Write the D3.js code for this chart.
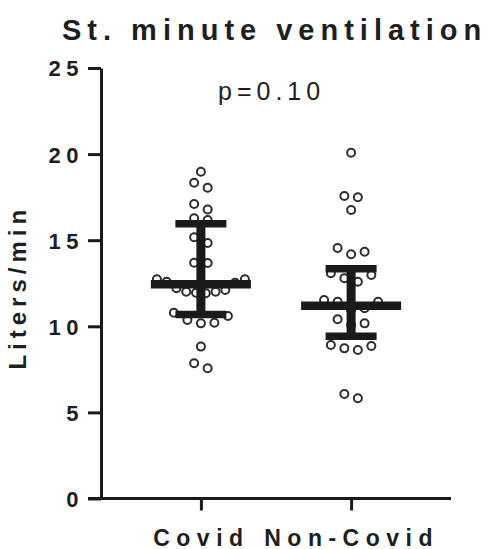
<!DOCTYPE html>
<html>
<head>
<meta charset="utf-8">
<script src="https://cdn.jsdelivr.net/npm/d3@7"></script>
<style>
  html, body { margin: 0; padding: 0; background: #fff; }
  svg { display: block; }
  text { font-family: "Liberation Sans", Arial, sans-serif; fill: #1e1e1e; }
</style>
</head>
<body>
<svg id="chart" width="487" height="549"></svg>
<script>
// ---- data ----
const categories = ["Covid", "Non-Covid"];
const covidValues = [18.98, 18.34, 18.05, 17.1, 16.78, 16.27, 16.17, 15.17, 14.84, 13.68, 13.69,
  12.73, 12.73, 12.59, 12.53, 12.21, 12.01, 12.01, 11.95, 11.92, 12.11,
  10.79, 10.6, 10.37, 10.21, 10.17, 8.82, 7.85, 7.56];
const nonCovidValues = [20.08, 17.57, 17.49, 16.75, 14.55, 14.33, 14.18, 13.08, 12.98, 12.79, 12.59,
  11.53, 11.43, 11.43, 11.05, 10.95, 10.41, 10.17, 10.08, 8.91, 8.86, 8.72, 8.62, 6.07, 5.82];
const centerValues = [12.44, 11.19];
const upperValues = [15.96, 13.34];
const lowerValues = [10.69, 9.42];
const yTicks = [0, 5, 10, 15, 20, 25];
const titleText = "St. minute ventilation";
const yLabelText = "Liters/min";
const pText = "p=0.10";

const seriesValues = [covidValues, nonCovidValues];

// ---- layout ----
const svg = d3.select("#chart");
const plotLeft = 101, plotRight = 451, plotTop = 68, plotBottom = 498.5;
const y = d3.scaleLinear().domain([0, 25]).range([plotBottom, plotTop]);
const x = d3.scalePoint().domain(categories).range([plotLeft, plotRight]).padding(0.665);

const ink = "#1a1a1a";

// title
svg.append("text")
  .attr("x", 62).attr("y", 40)
  .attr("font-size", 29).attr("font-weight", "bold")
  .attr("letter-spacing", 6)
  .text(titleText);

// p value
svg.append("text")
  .attr("x", 218).attr("y", 100)
  .attr("font-size", 25)
  .attr("letter-spacing", 5)
  .text(pText);

// y label
svg.append("text")
  .attr("transform", `translate(26, ${(plotTop + plotBottom) / 2 + 4}) rotate(-90)`)
  .attr("text-anchor", "middle")
  .attr("font-size", 24).attr("font-weight", "bold")
  .attr("letter-spacing", 5)
  .text(yLabelText);

// ---- swarm layout (row grouping, centred placement) ----
function swarm(values, cx) {
  const sorted = values.map(v => v).sort((a, b) => a - b);
  const rows = [];
  let cur = [];
  sorted.forEach((v, i) => {
    if (i > 0 && (y(sorted[i - 1]) - y(v)) > 7.8) { rows.push(cur); cur = []; }
    cur.push(v);
  });
  if (cur.length) rows.push(cur);
  const pts = [];
  rows.forEach(row => {
    const n = row.length;
    const s = n > 1 ? Math.min(13.5, 88 / (n - 1)) : 0;
    row.forEach((v, i) => {
      let slot;
      if (n % 2 === 1) {
        slot = i === 0 ? 0 : (i % 2 === 1 ? (i + 1) / 2 : -i / 2);
      } else {
        const k = Math.floor(i / 2);
        slot = (i % 2 === 0 ? 1 : -1) * (k + 0.5);
      }
      pts.push({ x: cx + slot * s, y: y(v) });
    });
  });
  return pts;
}

// dots
categories.forEach((c, gi) => {
  const pts = swarm(seriesValues[gi], x(c));
  svg.append("g").selectAll("circle").data(pts).join("circle")
    .attr("cx", d => d.x).attr("cy", d => d.y)
    .attr("r", 4)
    .attr("fill", "#fff")
    .attr("stroke", "#2e2e2e")
    .attr("stroke-width", 2);
});

// summary bars
const bars = svg.append("g");
categories.forEach((c, i) => {
  const cx = x(c);
  bars.append("line")
    .attr("x1", cx).attr("x2", cx)
    .attr("y1", y(upperValues[i])).attr("y2", y(lowerValues[i]))
    .attr("stroke", ink).attr("stroke-width", 9);
  bars.append("line")
    .attr("x1", cx - 25.5).attr("x2", cx + 25.5)
    .attr("y1", y(upperValues[i])).attr("y2", y(upperValues[i]))
    .attr("stroke", ink).attr("stroke-width", 7.5);
  bars.append("line")
    .attr("x1", cx - 25.5).attr("x2", cx + 25.5)
    .attr("y1", y(lowerValues[i])).attr("y2", y(lowerValues[i]))
    .attr("stroke", ink).attr("stroke-width", 7.5);
  bars.append("line")
    .attr("x1", cx - 50).attr("x2", cx + 50)
    .attr("y1", y(centerValues[i])).attr("y2", y(centerValues[i]))
    .attr("stroke", ink).attr("stroke-width", 8.5);
});

// y axis
const yAxis = svg.append("g")
  .attr("transform", `translate(${plotLeft},0)`)
  .call(d3.axisLeft(y).tickValues(yTicks).tickSize(13).tickSizeOuter(0).tickFormat(d3.format("d")));
yAxis.select(".domain").attr("stroke", ink).attr("stroke-width", 3);
yAxis.selectAll(".tick line").attr("stroke", ink).attr("stroke-width", 3);
yAxis.selectAll(".tick text")
  .attr("x", -17).attr("dy", "0.36em")
  .attr("font-size", 22).attr("font-weight", "bold")
  .attr("letter-spacing", 5.5)
  .style("fill", "#1e1e1e");

// x axis
const xAxis = svg.append("g")
  .attr("transform", `translate(0,${plotBottom})`)
  .call(d3.axisBottom(x).tickSize(12).tickSizeOuter(0));
xAxis.select(".domain").attr("stroke", ink).attr("stroke-width", 3)
  .attr("d", `M${plotLeft - 13},0H${plotRight}`);
xAxis.selectAll(".tick line").attr("stroke", ink).attr("stroke-width", 3);
xAxis.selectAll(".tick text")
  .attr("y", 47).attr("dy", 0)
  .attr("font-size", 23).attr("font-weight", "bold")
  .attr("letter-spacing", 6.5)
  .style("fill", "#1e1e1e");
svg.selectAll("g").attr("font-family", null).attr("font-size", null);
</script>
</body>
</html>
